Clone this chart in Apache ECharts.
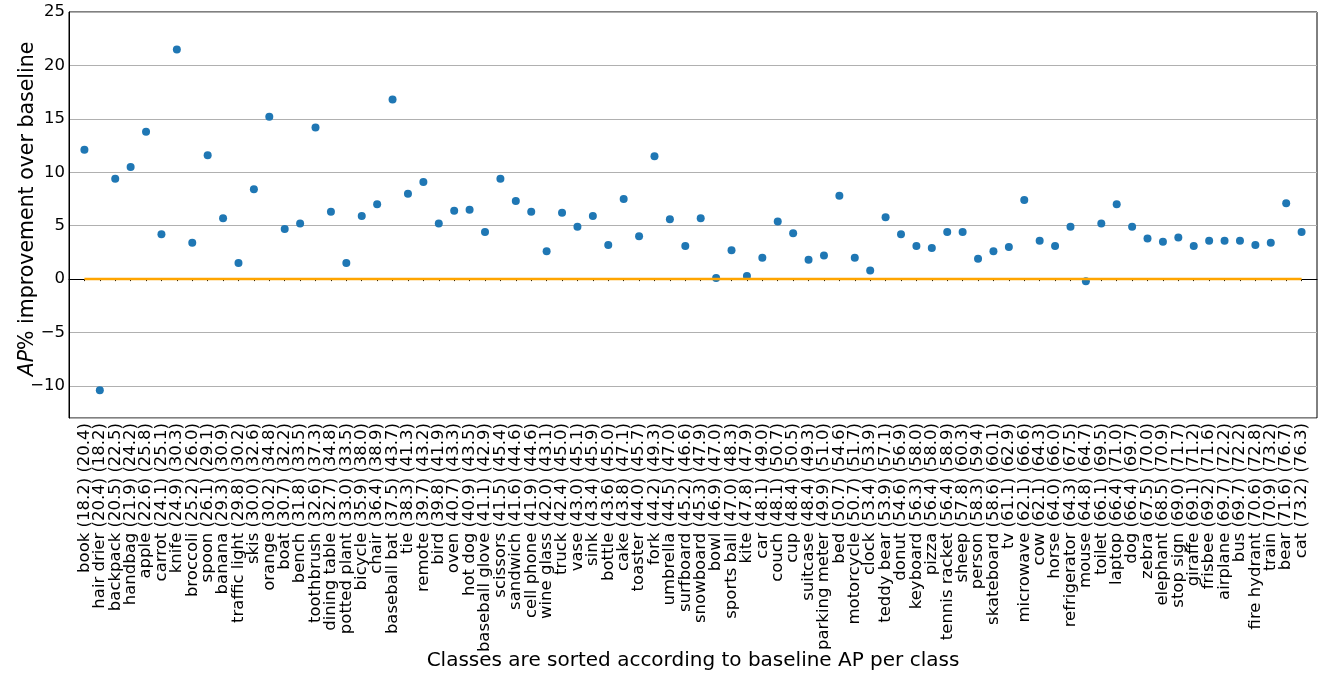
<!DOCTYPE html>
<html>
<head>
<meta charset="utf-8">
<script src="https://cdn.jsdelivr.net/npm/echarts@6/dist/echarts.min.js"></script>
<style>
html,body{margin:0;padding:0;background:#fff;}
#chart{width:1325px;height:675px;}
</style>
</head>
<body>
<div id="chart"></div>
<script>
// Class names, sorted by baseline AP
const classNames = ['book','hair drier','backpack','handbag','apple','carrot','knife','broccoli','spoon','banana',
  'traffic light','skis','orange','boat','bench','toothbrush','dining table','potted plant','bicycle','chair',
  'baseball bat','tie','remote','bird','oven','hot dog','baseball glove','scissors','sandwich','cell phone',
  'wine glass','truck','vase','sink','bottle','cake','toaster','fork','umbrella','surfboard',
  'snowboard','bowl','sports ball','kite','car','couch','cup','suitcase','parking meter','bed',
  'motorcycle','clock','teddy bear','donut','keyboard','pizza','tennis racket','sheep','person','skateboard',
  'tv','microwave','cow','horse','refrigerator','mouse','toilet','laptop','dog','zebra',
  'elephant','stop sign','giraffe','frisbee','airplane','bus','fire hydrant','train','bear','cat'];
// Baseline AP per class (first number in label)
const baselineAP = ['18.2','20.4','20.5','21.9','22.6','24.1','24.9','25.2','26.1','29.3',
  '29.8','30.0','30.2','30.7','31.8','32.6','32.7','33.0','35.9','36.4',
  '37.5','38.3','39.7','39.8','40.7','40.9','41.1','41.5','41.6','41.9',
  '42.0','42.4','43.0','43.4','43.6','43.8','44.0','44.2','44.5','45.2',
  '45.3','46.9','47.0','47.8','48.1','48.1','48.4','48.4','49.9','50.7',
  '50.7','53.4','53.9','54.6','56.3','56.4','56.4','57.8','58.3','58.6',
  '61.1','62.1','62.1','64.0','64.3','64.8','66.1','66.4','66.4','67.5',
  '68.5','69.0','69.1','69.2','69.7','69.7','70.6','70.9','71.6','73.2'];
// Improved AP per class (second number in label)
const improvedAP = ['20.4','18.2','22.5','24.2','25.8','25.1','30.3','26.0','29.1','30.9',
  '30.2','32.6','34.8','32.2','33.5','37.3','34.8','33.5','38.0','38.9',
  '43.7','41.3','43.2','41.9','43.3','43.5','42.9','45.4','44.6','44.6',
  '43.1','45.0','45.1','45.9','45.0','47.1','45.7','49.3','47.0','46.6',
  '47.9','47.0','48.3','47.9','49.0','50.7','50.5','49.3','51.0','54.6',
  '51.7','53.9','57.1','56.9','58.0','58.0','58.9','60.3','59.4','60.1',
  '62.9','66.6','64.3','66.0','67.5','64.7','69.5','71.0','69.7','70.0',
  '70.9','71.7','71.2','71.6','72.2','72.2','72.8','73.2','76.7','76.3'];
// AP% improvement over baseline
const improvement = [12.1,-10.4,9.4,10.5,13.8,4.2,21.5,3.4,11.6,5.7,
  1.5,8.4,15.2,4.7,5.2,14.2,6.3,1.5,5.9,7.0,
  16.8,8.0,9.1,5.2,6.4,6.5,4.4,9.4,7.3,6.3,
  2.6,6.2,4.9,5.9,3.2,7.5,4.0,11.5,5.6,3.1,
  5.7,0.1,2.7,0.3,2.0,5.4,4.3,1.8,2.2,7.8,
  2.0,0.8,5.8,4.2,3.1,2.9,4.4,4.4,1.9,2.6,
  3.0,7.4,3.6,3.1,4.9,-0.2,5.2,7.0,4.9,3.8,
  3.5,3.9,3.1,3.6,3.6,3.6,3.2,3.4,7.1,4.4];
const yTicks = [-10,-5,0,5,10,15,20,25];

const labels = classNames.map((n,i)=> n + ' (' + baselineAP[i] + ') (' + improvedAP[i] + ')');
// pad one empty slot on each side (matplotlib margin)
const cats = [''].concat(labels, ['']);
const scatterData = ['-'].concat(improvement, ['-']);
const zeroLine = ['-'].concat(improvement.map(()=>0), ['-']);

const chart = echarts.init(document.getElementById('chart'), null, {renderer:'canvas'});
chart.setOption({
  animation:false,
  backgroundColor:'#fff',
  textStyle:{fontFamily:'DejaVu Sans'},
  grid:{left:69,right:8,top:12,bottom:257,containLabel:false,outerBoundsMode:'none',
    show:true,borderColor:'#000',borderWidth:1,backgroundColor:'transparent'},
  xAxis:{
    type:'category',
    data:cats,
    boundaryGap:false,
    name:'Classes are sorted according to baseline AP per class',
    nameLocation:'middle',
    nameGap:233,
    nameMoveOverlap:false,
    nameTextStyle:{fontSize:20,color:'#000',fontFamily:'DejaVu Sans',verticalAlign:'top'},
    axisLine:{lineStyle:{color:'#000',width:1}},
    axisTick:{show:true,length:2,interval:(idx)=> idx>0 && idx<cats.length-1,lineStyle:{color:'#000'}},
    axisLabel:{interval:0,rotate:90,fontSize:16.5,color:'#000',margin:5,fontFamily:'DejaVu Sans'},
    splitLine:{show:false}
  },
  yAxis:{
    type:'value',
    min:-13,
    max:25,
    splitNumber:8,
    name:'{i|AP}% improvement over baseline',
    nameLocation:'middle',
    nameGap:31,
    nameMoveOverlap:false,
    nameTextStyle:{fontSize:20.5,color:'#000',fontFamily:'DejaVu Sans',padding:[0,0,0,12],
      rich:{i:{fontStyle:'italic',fontSize:20.5,fontFamily:'DejaVu Sans',color:'#000'}}},
    axisLine:{show:true,lineStyle:{color:'#000',width:1}},
    axisTick:{show:false},
    axisLabel:{fontSize:16.5,color:'#000',margin:4,showMinLabel:false,fontFamily:'DejaVu Sans',
      formatter:(v)=> yTicks.indexOf(v)>=0 ? (v<0 ? '\u2212'+Math.abs(v) : String(v)) : ''},
    splitLine:{show:true,lineStyle:{color:'#b0b0b0',width:1}}
  },
  series:[
    {type:'scatter',data:scatterData,symbol:'circle',symbolSize:8,itemStyle:{color:'#1f77b4',opacity:1},z:2},
    {type:'line',data:zeroLine,showSymbol:false,symbol:'none',lineStyle:{color:'#FFA500',width:2.5},z:3}
  ]
});
</script>
</body>
</html>
